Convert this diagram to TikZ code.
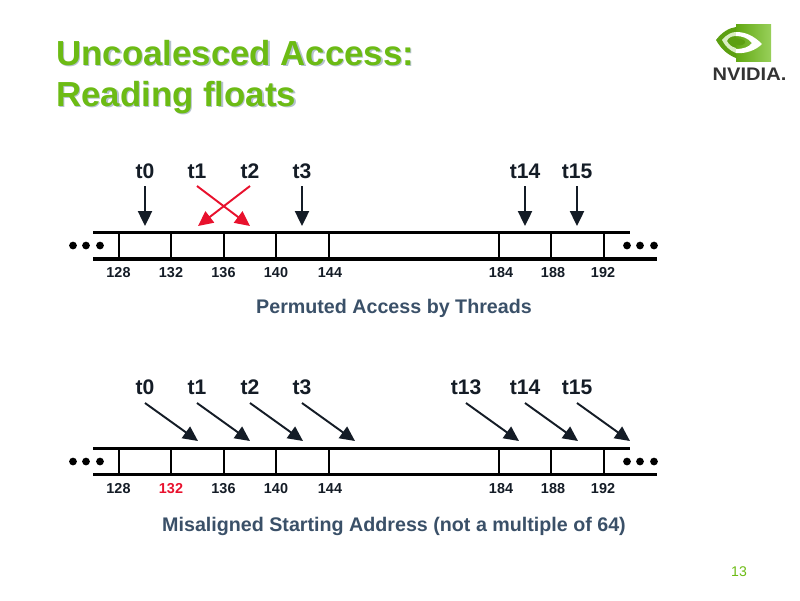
\documentclass[tikz,border=0pt]{standalone}
\usepackage{fontspec}
\setmainfont{Liberation Sans}
\usepackage{xcolor}
\usetikzlibrary{arrows.meta, positioning, calc}
\definecolor{nvgreen}{HTML}{6CBB14}
\definecolor{nvshadow}{HTML}{B4C2CE}
\definecolor{capblue}{HTML}{3A5068}
\definecolor{inkdark}{HTML}{141C26}
\definecolor{addrred}{HTML}{E8112D}
\begin{document}
\begin{tikzpicture}[
    x=0.02cm, y=-0.02cm,
    >={Triangle[length=8.5pt, width=8pt]},
    title/.style  = {anchor=base west, inner sep=0pt, font=\fontsize{19.8pt}{20pt}\selectfont\bfseries},
    thread/.style = {inner sep=0pt, text=inkdark, font=\fontsize{12pt}{14pt}\selectfont\bfseries},
    addr/.style   = {inner sep=0pt, text=inkdark, font=\fontsize{8.2pt}{9pt}\selectfont\bfseries},
    caption/.style= {inner sep=0pt, text=capblue, font=\fontsize{11.2pt}{12pt}\selectfont\bfseries},
    rail/.style   = {line width=1.8pt, black},
    tick/.style   = {line width=1.6pt, black},
    dots/.style   = {circle, fill=black, inner sep=0pt, minimum size=4.4pt},
    tarrow/.style = {->, line width=1.1pt, inkdark},
    redarrow/.style = {->, line width=1.1pt, addrred}
]
    \useasboundingbox (0,0) rectangle (800,600);

    % title
    \foreach \name/\ypos/\txt in {one/65/Uncoalesced Access:, two/106/Reading floats} {
        \node[title, text=nvshadow] (shadow\name) at (57.5,\ypos+1.5) {\txt};
        \node[title, text=nvgreen] (title\name) at (56,\ypos) {\txt};
    }

    % logo
    \shade[left color=nvgreen!90!black, right color=nvgreen!70!white] (736,24) rectangle (771,61);
    \fill[nvgreen!85!black] (716,40) .. controls (722,32) and (729,28) .. (736,27) -- (736,58) .. controls (728,55) and (721,49) .. (716,40) -- cycle;
    \fill[white!75!nvgreen] (722,40) .. controls (727,34) and (732,32) .. (736,32) -- (736,36) .. controls (731,36) and (728,38) .. (727,41) .. controls (729,45) and (732,47) .. (736,48) -- (736,53) .. controls (730,51) and (725,46) .. (722,40) -- cycle;
    \fill[white] (736,32) .. controls (746,32) and (754,36) .. (762,44) .. controls (756,50) and (746,54) .. (736,53) -- (736,49) .. controls (743,49) and (749,47) .. (752,43) .. controls (748,38) and (742,36) .. (736,36) -- cycle;
    \fill[nvgreen!85!black] (733,41) .. controls (734,38) and (736,38) .. (741,39) .. controls (745,40) and (746,42) .. (745,43) .. controls (742,46) and (737,46) .. (736,44) -- cycle;
    \node[inner sep=0pt, text=black!80, font=\fontsize{9pt}{10pt}\selectfont\bfseries, xscale=1.27, yscale=1.15] (logotext) at (749.5,74) {NVIDIA.};

    % upper and lower memory strip
    \foreach \row/\ytop/\ybot in {a/232.5/259, b/448.5/474.5} {
        \coordinate (\row left) at (93,\ytop);
        \coordinate (\row right) at (630,\ytop);
        \coordinate (\row lowleft) at (93,\ybot);
        \coordinate (\row lowright) at (657,\ybot);
        \draw[rail] (\row left) -- (\row right);
        \draw[rail] (\row lowleft) -- (\row lowright);
        \foreach \xpos/\val in {119/128, 171/132, 224/136, 276/140, 329/144, 499/184, 551/188, 604/192} {
            \coordinate (\row top\val) at (\xpos,\ytop);
            \coordinate (\row bot\val) at (\xpos,\ybot);
            \draw[tick] (\row top\val) -- (\row bot\val);
        }
        \foreach \xpos/\idx in {73/1, 86/2, 100/3, 627/4, 640/5, 654/6} {
            \node[dots] (\row dot\idx) at (\xpos,\ytop+13) {};
        }
    }

    % addresses
    \foreach \xpos/\val in {118.5/128, 171/132, 223.5/136, 276/140, 330/144, 501/184, 553/188, 603/192} {
        \node[addr] (alab\val) at (\xpos,273) {\val};
    }
    \foreach \xpos/\val in {118.5/128, 223.5/136, 276/140, 330/144, 501/184, 553/188, 603/192} {
        \node[addr] (blab\val) at (\xpos,489) {\val};
    }
    \node[addr, text=addrred] (blab132) at (171,489) {132};

    % permuted threads
    \foreach \xpos/\name in {145/t0, 197/t1, 250/t2, 302/t3, 525/t14, 577/t15} {
        \node[thread] (a\name) at (\xpos,171) {\name};
    }
    \foreach \xpos/\name in {145/t0, 302/t3, 525/t14, 577/t15} {
        \coordinate (astart\name) at (\xpos,186);
        \coordinate (aend\name) at (\xpos,226);
        \draw[tarrow] (astart\name) -- (aend\name);
    }
    \coordinate (astart1) at (197,186);
    \coordinate (astart2) at (250,186);
    \coordinate (aend1) at (250,226);
    \coordinate (aend2) at (198,226);
    \draw[redarrow] (astart1) -- (aend1);
    \draw[redarrow] (astart2) -- (aend2);

    % misaligned threads
    \foreach \xpos/\name in {145/t0, 197/t1, 250/t2, 302/t3, 466/t13, 525/t14, 577/t15} {
        \node[thread] (b\name) at (\xpos,387) {\name};
        \coordinate (bstart\name) at (\xpos,403);
        \coordinate (bend\name) at (\xpos+53,441);
        \draw[tarrow] (bstart\name) -- (bend\name);
    }

    % captions
    \node[caption] (capa) at (394,308.5) {Permuted Access by Threads};
    \node[caption] (capb) at (394,526.5) {Misaligned Starting Address (not a multiple of 64)};

    \node[inner sep=0pt, text=nvgreen, font=\fontsize{8pt}{10pt}\selectfont] (pagenum) at (739,572) {13};
\end{tikzpicture}
\end{document}
